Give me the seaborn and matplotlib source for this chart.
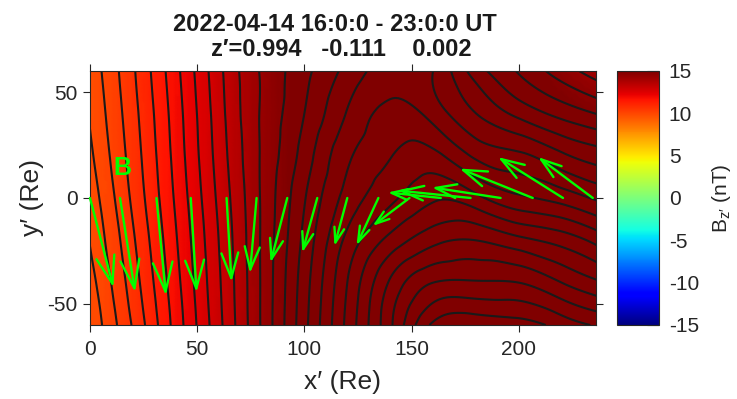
import numpy as np
import matplotlib
matplotlib.use("Agg")
import matplotlib.pyplot as plt
import matplotlib.tri as mtri
import seaborn as sns

# ---------------- data ----------------
x_grid = [0, 20, 40, 60, 80, 100, 120, 140, 160, 180, 200, 220, 240]
y_grid = [-60, -40, -20, 0, 20, 40, 60]

# flux-function values (field lines are its contours), one row per y_grid value
flux_m60 = [-1.8, 1.1, 4.4, 7.7, 11.1, 14.7, 18.27, 21.8, 25.2, 25.7, 25.4, 24.6, 23.8]
flux_m40 = [-1.4, 1.5, 4.65, 7.85, 11.1, 14.55, 18.0, 21.14, 23.0, 23.1, 23.0, 22.0, 21.0]
flux_m20 = [-0.95, 1.85, 4.9, 8.0, 11.1, 14.27, 17.27, 19.33, 20.7, 21.0, 20.3, 19.6, 18.4]
flux_0 = [-0.6, 2.2, 5.15, 8.2, 11.1, 13.92, 16.37, 17.77, 18.85, 18.3, 17.2, 16.6, 15.7]
flux_p20 = [-0.2, 2.45, 5.35, 8.4, 11.1, 13.44, 15.8, 16.95, 17.3, 15.8, 15.2, 14.2, 13.4]
flux_p40 = [0.1, 2.65, 5.5, 8.55, 11.1, 13.0, 15.07, 16.3, 15.6, 14.0, 12.7, 11.65, 10.8]
flux_p60 = [0.35, 2.85, 5.7, 8.7, 11.1, 12.71, 14.33, 15.45, 15.0, 12.5, 10.9, 9.5, 8.3]
flux_levels = list(range(-3, 27))

# Bz (nT), one row per y_grid value
bz_m60 = [9.8, 10.7, 11.9, 13.0, 14.3, 15.2, 16.0, 16.5, 16.5, 16.2, 16.0, 15.8, 15.5]
bz_m40 = [9.8, 10.7, 11.9, 13.0, 14.3, 15.2, 16.0, 16.5, 16.5, 16.2, 16.0, 15.8, 15.5]
bz_m20 = [9.8, 10.7, 11.9, 13.0, 14.3, 15.2, 16.0, 16.5, 16.5, 16.2, 16.0, 15.8, 15.5]
bz_0 = [9.8, 10.7, 11.9, 13.0, 14.3, 15.2, 16.0, 16.5, 16.5, 16.2, 16.0, 15.8, 15.5]
bz_p20 = [9.8, 10.7, 11.9, 13.0, 14.3, 15.2, 16.0, 16.5, 16.5, 16.2, 16.0, 15.8, 15.3]
bz_p40 = [9.8, 10.7, 11.9, 13.0, 14.3, 15.2, 16.0, 16.5, 16.5, 16.0, 15.6, 15.2, 14.8]
bz_p60 = [9.8, 10.7, 11.9, 13.0, 14.3, 15.2, 16.0, 16.5, 16.2, 15.8, 15.2, 14.6, 13.9]

# B vectors (tail position and components, Re)
arrow_x = [0, 14, 31, 47, 63.7, 77.7, 92, 106, 120, 134.5, 149, 163.6, 177.5, 191.5, 206.5, 220.6, 234.5]
arrow_y = [0] * 17
arrow_u = [10.9, 7.0, 4.4, 2.7, 2.3, -3.1, -7.8, -7.0, -6.0, -10.2, -17.2, -24.7, -33.8, -32.0, -34.1, -30.3, -25.5]
arrow_v = [-42.2, -44.4, -46.0, -44.5, -39.6, -35.5, -30.5, -25.8, -22.7, -22.4, -13.2, 2.6, 3.5, 5.0, 13.9, 19.3, 19.3]

title1 = "2022-04-14 16:0:0 - 23:0:0 UT"
title2 = "z\u2032=0.994   -0.111    0.002"
x_ticks = [0, 50, 100, 150, 200]
y_ticks = [-50, 0, 50]
cbar_ticks = [-15, -10, -5, 0, 5, 10, 15]

# ---------------- style ----------------
sns.set_theme(style="ticks")
plt.rcParams["font.family"] = ["Liberation Sans", "DejaVu Sans"]
plt.rcParams["mathtext.fontset"] = "custom"
plt.rcParams["mathtext.rm"] = "Liberation Sans"
plt.rcParams["mathtext.it"] = "Liberation Sans"
plt.rcParams["mathtext.default"] = "regular"
plt.rcParams["axes.unicode_minus"] = False
dark = "#262626"

fig = plt.figure(figsize=(7.37, 3.99), dpi=100)
ax = fig.add_axes([0.1221, 0.1855, 0.6866, 0.6366])
cax = fig.add_axes([0.8372, 0.1855, 0.057, 0.6366])

# triangulated grid, smoothed by matplotlib's refiner
X, Y = np.meshgrid(x_grid, y_grid)
nx, ny = len(x_grid), len(y_grid)
tris = []
for j in range(ny - 1):
    for i in range(nx - 1):
        p = j * nx + i
        tris.append([p, p + 1, p + nx])
        tris.append([p + 1, p + nx + 1, p + nx])
tri = mtri.Triangulation(X.ravel(), Y.ravel(), np.array(tris))
refiner = mtri.UniformTriRefiner(tri)

A = np.array([flux_m60, flux_m40, flux_m20, flux_0, flux_p20, flux_p40, flux_p60]).ravel()
Bz = np.array([bz_m60, bz_m40, bz_m20, bz_0, bz_p20, bz_p40, bz_p60]).ravel()
interpA = mtri.CubicTriInterpolator(tri, A, kind="min_E")
interpB = mtri.CubicTriInterpolator(tri, Bz, kind="min_E")
tri_f, A_f = refiner.refine_field(A, triinterpolator=interpA, subdiv=4)
tri_b, Bz_f = refiner.refine_field(Bz, triinterpolator=interpB, subdiv=4)

mesh = ax.tripcolor(tri_b, Bz_f, shading="gouraud", cmap="jet", vmin=-15, vmax=15)
ax.tricontour(tri_f, A_f, levels=flux_levels, colors="k", linewidths=1.5,
              linestyles="solid")

ax.set_xlim(0, 236)
ax.set_ylim(-60, 60)

# arrows with heads proportional to their length (like MATLAB quiver)
fig.canvas.draw()
bbox = ax.get_window_extent()
sx = bbox.width / 236.0
sy = bbox.height / 120.0
for x0, y0, u, v in zip(arrow_x, arrow_y, arrow_u, arrow_v):
    L_pt = np.hypot(u * sx, v * sy) * 72.0 / fig.dpi
    hl = 0.30 * L_pt
    hw = 0.10 * L_pt
    ax.annotate("", xy=(x0 + u, y0 + v), xytext=(x0, y0),
                arrowprops=dict(arrowstyle=f"->,head_length={hl:.2f},head_width={hw:.2f}",
                                color=(0, 1, 0), lw=1.7, shrinkA=0, shrinkB=0,
                                mutation_scale=1),
                annotation_clip=False)

ax.text(15, 14, "B", color=(0, 1, 0), fontsize=18, fontweight="bold",
        ha="center", va="center")

ax.set_xticks(x_ticks)
ax.set_yticks(y_ticks)
ax.tick_params(direction="out", length=5, width=0.8, top=True, right=True,
               labelsize=15, colors=dark, pad=4)
ax.tick_params(axis="x", pad=6)
for s in ax.spines.values():
    s.set_color(dark)
    s.set_linewidth(0.8)
ax.set_xlabel("x\u2032 (Re)", fontsize=19, color=dark, labelpad=8)
ax.set_ylabel("y\u2032 (Re)", fontsize=19, color=dark, labelpad=2)

cb = fig.colorbar(mesh, cax=cax, ticks=cbar_ticks)
cb.outline.set_edgecolor(dark)
cb.outline.set_linewidth(0.8)
cax.tick_params(direction="in", length=9, width=0.8, labelsize=15, colors=dark, pad=7)
cb.set_label("B$_{z\u2032}$ (nT)", fontsize=15, color=dark, labelpad=8)

fig.text(335 / 737, 1 - 30.7 / 399, title1, ha="center", va="baseline",
         fontsize=17, fontweight="bold", color="k")
fig.text(341 / 737, 1 - 56 / 399, title2, ha="center", va="baseline",
         fontsize=17, fontweight="bold", color="k")

fig.savefig("out.png", dpi=100)
